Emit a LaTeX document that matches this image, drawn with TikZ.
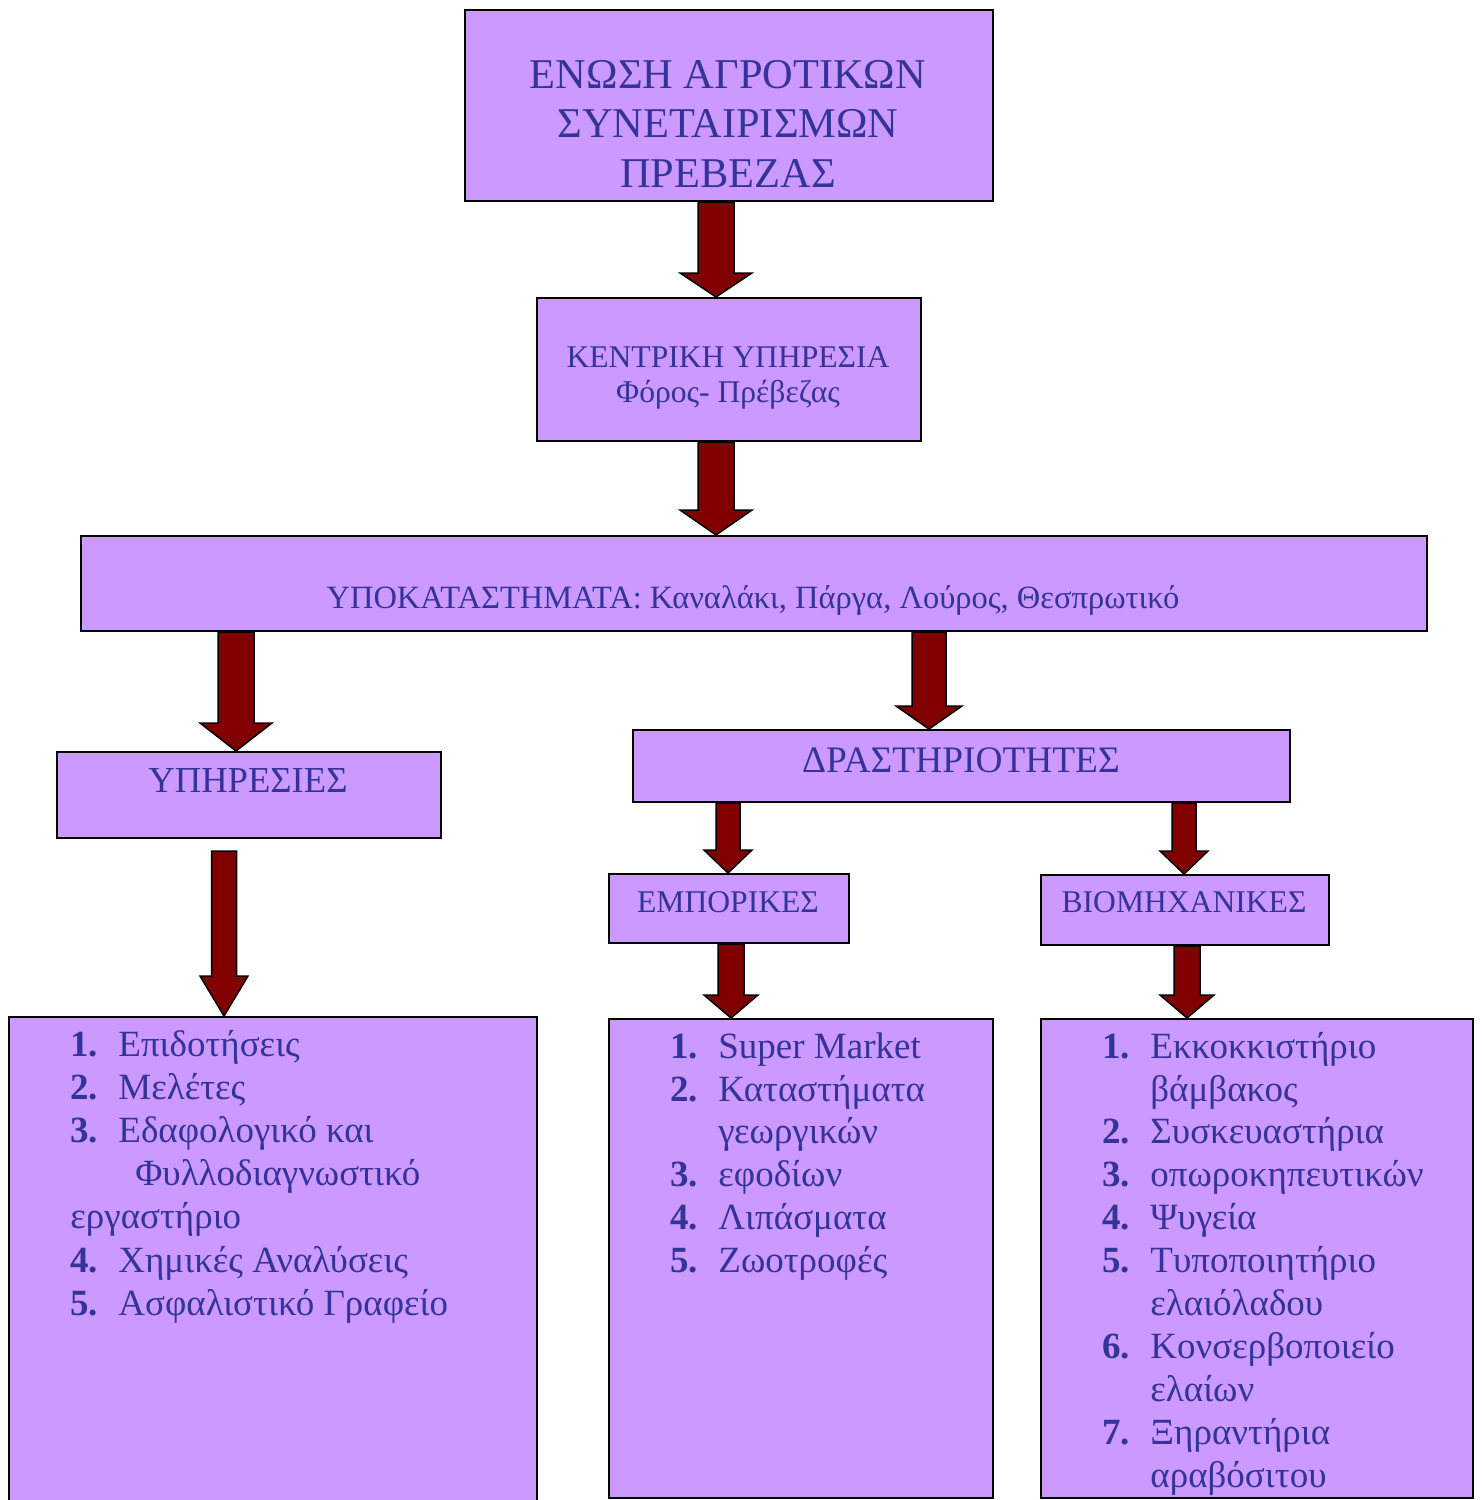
\documentclass[tikz,border=0pt]{standalone}
\usepackage{fontspec}
\setmainfont{Liberation Serif}
\usetikzlibrary{calc}
\definecolor{boxfill}{HTML}{CC99FF}
\definecolor{txtblue}{HTML}{333399}
\definecolor{arrowred}{HTML}{800000}
\tikzset{
  box/.style={draw=black, line width=1pt, fill=boxfill, inner sep=0pt, anchor=north west},
  ttl/.style={text=txtblue, inner sep=0pt, anchor=base},
  lst/.style={text=txtblue, inner sep=0pt, anchor=base west, font=\fontsize{18.5}{21.5}\selectfont},
  fat/.style={draw=black, line width=0.75pt, fill=arrowred, line join=miter},
}
% #1 start, #2 tip, #3 shaft half width, #4 head half width, #5 head length
\newcommand{\fatarrow}[5]{%
  \path[fat] let \p1=(#1), \p2=(#2) in
    (\x1-#3,\y1) -- (\x1+#3,\y1) -- (\x1+#3,\y2+#5) -- (\x1+#4,\y2+#5) --
    (\x1,\y2) -- (\x1-#4,\y2+#5) -- (\x1-#3,\y2+#5) -- cycle;}
% #1 name, #2 x of number, #3 baseline y, #4 number, #5 text
\newcommand{\lstitem}[5]{%
  \node[lst] (#1n) at (#2,#3) {\textbf{#4}};
  \node[lst] (#1t) at ($(#2,#3)+(48,0)$) {#5};}
\begin{document}
\begin{tikzpicture}[x=0.5pt, y=-0.5pt]
\clip (0,0) rectangle (1483,1500);
\fill[white] (0,0) rectangle (1483,1500);

% boxes
\node[box, minimum width=264pt, minimum height=95.5pt] (top) at (464,9) {};
\node[box, minimum width=192pt, minimum height=71.5pt] (kent) at (536,297) {};
\node[box, minimum width=673pt, minimum height=47.5pt] (ypo) at (80,535) {};
\node[box, minimum width=192pt, minimum height=43pt] (yph) at (56,751) {};
\node[box, minimum width=328.5pt, minimum height=36pt] (dra) at (632,729) {};
\node[box, minimum width=120pt, minimum height=34.5pt] (emp) at (608,873) {};
\node[box, minimum width=144pt, minimum height=35pt] (bio) at (1040,874) {};
\node[box, minimum width=264pt, minimum height=255pt] (lista) at (8,1016) {};
\node[box, minimum width=192pt, minimum height=239.5pt] (listb) at (608,1018) {};
\node[box, minimum width=216pt, minimum height=239.5pt] (listc) at (1040,1018) {};

% arrows
\fatarrow{716,0 |- top.south}{716,0 |- kent.north}{9pt}{18pt}{12pt}
\fatarrow{716,0 |- kent.south}{716,0 |- ypo.north}{9pt}{18pt}{12.5pt}
\fatarrow{236,0 |- ypo.south}{236,0 |- yph.north}{9pt}{18pt}{14pt}
\fatarrow{929,0 |- ypo.south}{929,0 |- dra.north}{8.5pt}{16.5pt}{11.5pt}
\fatarrow{$(224,0 |- yph.south)+(0,12)$}{224,0 |- lista.north}{6.25pt}{12pt}{20pt}
\fatarrow{728,0 |- dra.south}{728,0 |- emp.north}{6pt}{12pt}{11.5pt}
\fatarrow{1184,0 |- dra.south}{1184,0 |- bio.north}{6pt}{12pt}{11.5pt}
\fatarrow{731,0 |- emp.south}{731,0 |- listb.north}{6.5pt}{13.5pt}{11.5pt}
\fatarrow{1187,0 |- bio.south}{1187,0 |- listc.north}{6.5pt}{13.5pt}{11.5pt}

% titles
\begin{scope}[every node/.append style={font=\fontsize{21.2}{24}\selectfont}]
\node[ttl] (t1) at (728,88) {ΕΝΩΣΗ ΑΓΡΟΤΙΚΩΝ};
\node[ttl] (t2) at (728,137) {ΣΥΝΕΤΑΙΡΙΣΜΩΝ};
\node[ttl] (t3) at (728,187) {ΠΡΕΒΕΖΑΣ};
\end{scope}
\begin{scope}[every node/.append style={font=\fontsize{15.8}{18}\selectfont}]
\node[ttl] (k1) at (728,367) {ΚΕΝΤΡΙΚΗ ΥΠΗΡΕΣΙΑ};
\node[ttl] (k2) at (728,402) {Φόρος- Πρέβεζας};
\node[ttl] (e1) at (728,912) {ΕΜΠΟΡΙΚΕΣ};
\node[ttl] (b1) at (1184,912) {ΒΙΟΜΗΧΑΝΙΚΕΣ};
\end{scope}
\node[ttl, font=\fontsize{16.25}{18}\selectfont] (y1) at (753,608) {ΥΠΟΚΑΤΑΣΤΗΜΑΤΑ: Καναλάκι, Πάργα, Λούρος, Θεσπρωτικό};
\node[ttl, font=\fontsize{18.3}{21}\selectfont] (h1) at (248,792) {ΥΠΗΡΕΣΙΕΣ};
\node[ttl, font=\fontsize{18.7}{21}\selectfont] (d1) at (961,772) {ΔΡΑΣΤΗΡΙΟΤΗΤΕΣ};

% list 1
\lstitem{a1}{70}{1056}{1.}{Επιδοτήσεις}
\lstitem{a2}{70}{1099}{2.}{Μελέτες}
\lstitem{a3}{70}{1142}{3.}{Εδαφολογικό και}
\node[lst] (a3b) at (135,1185) {Φυλλοδιαγνωστικό};
\node[lst] (a3c) at (70,1228) {εργαστήριο};
\lstitem{a4}{70}{1272}{4.}{Χημικές Αναλύσεις}
\lstitem{a5}{70}{1315}{5.}{Ασφαλιστικό Γραφείο}

% list 2
\lstitem{b1}{670}{1058}{1.}{Super Market}
\lstitem{b2}{670}{1101}{2.}{Καταστήματα}
\node[lst] (b2b) at (718,1143) {γεωργικών};
\lstitem{b3}{670}{1186}{3.}{εφοδίων}
\lstitem{b4}{670}{1229}{4.}{Λιπάσματα}
\lstitem{b5}{670}{1272}{5.}{Ζωοτροφές}

% list 3
\lstitem{c1}{1102}{1058}{1.}{Εκκοκκιστήριο}
\node[lst] (c1b) at (1150,1101) {βάμβακος};
\lstitem{c2}{1102}{1143}{2.}{Συσκευαστήρια}
\lstitem{c3}{1102}{1186}{3.}{οπωροκηπευτικών}
\lstitem{c4}{1102}{1229}{4.}{Ψυγεία}
\lstitem{c5}{1102}{1272}{5.}{Τυποποιητήριο}
\node[lst] (c5b) at (1150,1315) {ελαιόλαδου};
\lstitem{c6}{1102}{1358}{6.}{Κονσερβοποιείο}
\node[lst] (c6b) at (1150,1401) {ελαίων};
\lstitem{c7}{1102}{1444}{7.}{Ξηραντήρια}
\node[lst] (c7b) at (1150,1487) {αραβόσιτου};
\end{tikzpicture}
\end{document}
